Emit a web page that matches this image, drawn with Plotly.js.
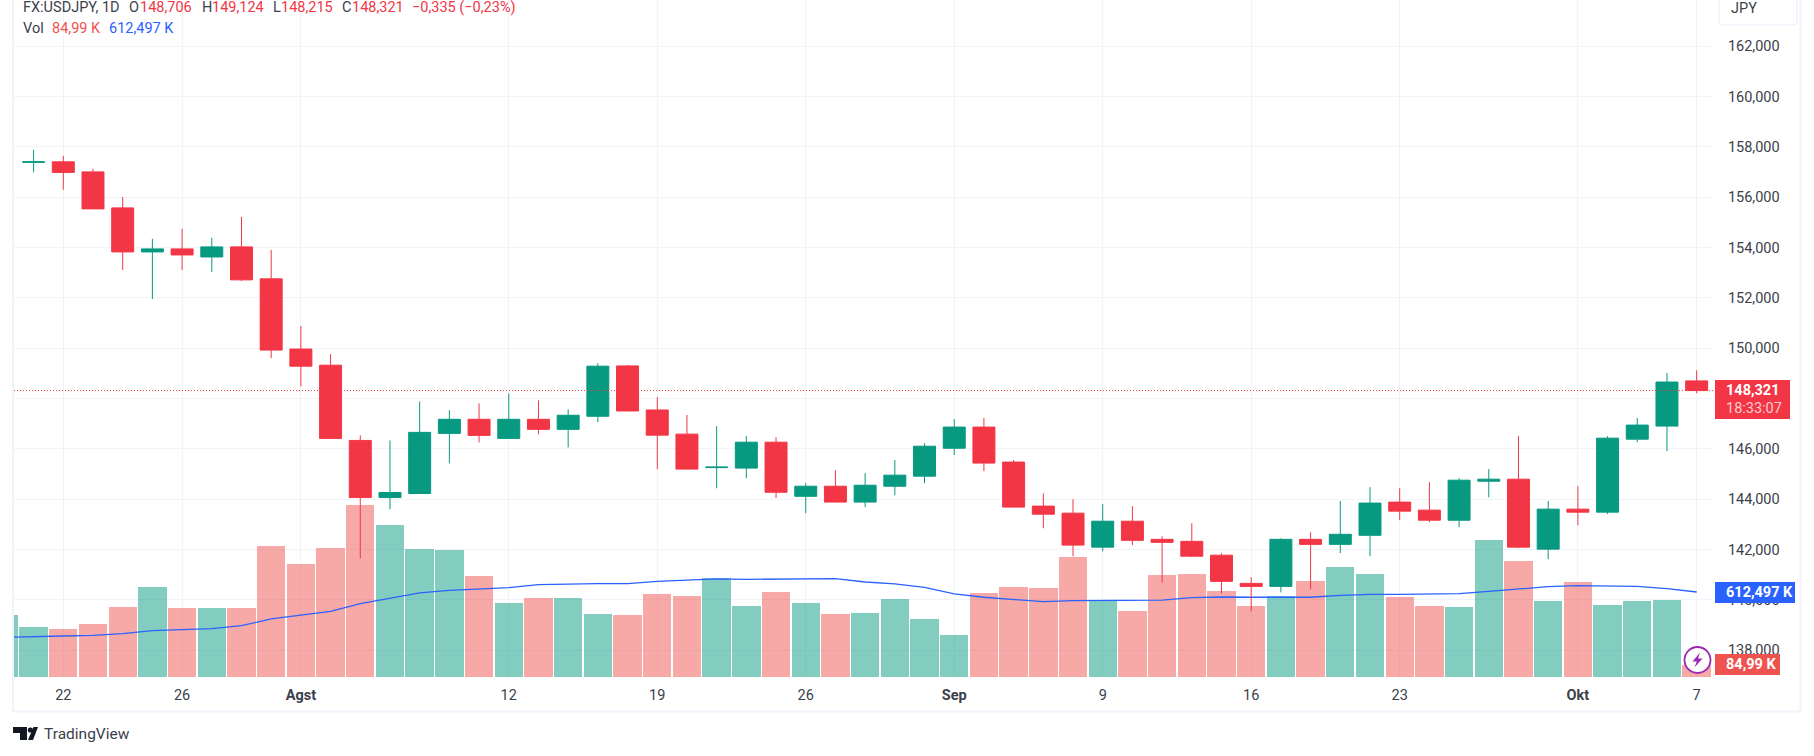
<!DOCTYPE html>
<html>
<head>
<meta charset="utf-8">
<script src="https://cdn.plot.ly/plotly-3.0.1.min.js"></script>
<style>html,body{margin:0;padding:0;background:#fff}#chart{width:1814px;height:756px}</style>
</head>
<body>
<div id="chart"></div>
<script>
const dates = ['07-18','07-19','07-22','07-23','07-24','07-25','07-26','07-29','07-30','07-31','08-01','08-02','08-05','08-06','08-07','08-08','08-09','08-12','08-13','08-14','08-15','08-16','08-19','08-20','08-21','08-22','08-23','08-26','08-27','08-28','08-29','08-30','09-02','09-03','09-04','09-05','09-06','09-09','09-10','09-11','09-12','09-13','09-16','09-17','09-18','09-19','09-20','09-23','09-24','09-25','09-26','09-27','09-30','10-01','10-02','10-03','10-04','10-07'];

const open = [157.39,157.41,157.01,155.58,153.83,153.95,153.63,154.03,152.76,149.97,149.33,146.34,144.07,144.23,146.62,147.18,146.42,147.18,146.78,147.30,149.30,147.55,146.59,145.26,145.24,146.27,144.12,144.52,143.89,144.52,144.92,146.03,146.87,145.48,143.73,143.45,142.10,143.13,142.41,142.33,141.78,140.66,140.54,142.41,142.21,142.57,143.89,143.57,143.17,144.72,144.80,142.02,143.61,143.49,146.39,146.91,148.706];
const high = [157.89,157.65,157.13,156.01,154.35,154.75,154.39,155.22,153.91,150.89,149.77,146.54,146.34,147.89,147.54,147.81,148.21,147.93,147.58,149.41,149.34,148.06,147.35,146.91,146.51,146.47,144.64,145.16,145.04,145.56,146.23,147.19,147.23,145.56,144.24,144.01,143.81,143.73,142.53,143.05,141.86,140.90,142.45,142.69,143.93,144.48,144.44,144.68,144.84,145.20,146.51,143.93,144.52,146.51,147.23,149.02,149.124];
const low = [156.99,156.30,155.54,153.11,151.96,153.11,153.03,152.68,149.61,148.49,146.42,141.65,143.60,144.23,145.43,146.26,146.42,146.58,146.06,147.06,147.51,145.20,145.20,144.44,144.84,144.05,143.45,143.89,143.69,144.16,144.64,145.76,145.12,143.69,142.85,141.74,141.94,142.18,140.70,141.70,140.26,139.55,140.30,140.42,141.86,141.74,143.17,143.09,142.89,144.08,142.06,141.62,142.97,143.41,146.27,145.92,148.215];
const close = [157.41,156.99,155.54,153.83,153.95,153.71,154.03,152.72,149.93,149.29,146.42,144.07,144.27,146.66,147.18,146.54,147.18,146.78,147.34,149.29,147.51,146.55,145.20,145.28,146.27,144.28,144.52,143.89,144.56,144.96,146.11,146.87,145.44,143.69,143.41,142.18,143.13,142.37,142.29,141.74,140.74,140.54,142.41,142.21,142.61,143.85,143.53,143.17,144.76,144.80,142.10,143.61,143.49,146.43,146.95,148.66,148.321];
const volumeK = [444,358,343,379,502,646,494,494,494,941,811,926,1236,1092,919,912,725,530,566,566,451,444,595,581,710,509,610,530,451,458,559,415,300,602,646,638,862,552,473,732,739,617,509,581,689,790,739,574,509,502,984,833,545,682,516,545,552,85];
const volumeMaK = [286,293,295,300,312,334,341,348,370,418,446,473,528,566,605,624,631,643,665,670,672,672,689,698,706,703,706,710,708,684,670,646,598,574,559,542,550,552,550,554,571,576,574,574,574,588,595,595,598,600,617,636,650,658,655,653,636,612];

const priceTicks = [138,140,142,144,146,150,152,154,156,158,160,162];
const priceTickText = ['138,000','140,000','142,000','144,000','146,000','150,000','152,000','154,000','156,000','158,000','160,000','162,000'];
const priceGrid = 148;
const timeTicks = ['07-22','07-26','08-01','08-12','08-19','08-26','09-02','09-09','09-16','09-23','10-01','10-07'];
const timeTickText = ['22','26','<b>Agst</b>','12','19','26','<b>Sep</b>','9','16','23','<b>Okt</b>','7'];

const lastClose = 148.321;

const W = 1814, H = 756, L = 14, R = 1713, B = 677;
const GREEN = '#089981', RED = '#F23645', GRID = '#F0F3FA', TXT = '#3b3f4b', BLUE = '#2962FF', VRED = '#EF5350';
const X = px => (px - L) / (R - L);
const Y = py => 1 - py / B;

const ann = (x, y, text, color, size, extra) => Object.assign({
  xref: 'paper', yref: 'paper', x: X(x), y: Y(y), text, showarrow: false, xanchor: 'left', yanchor: 'middle',
  font: {family: 'Roboto, sans-serif', size: size || 14.5, color}, borderpad: 0
}, extra || {});
const rect = (x0, y0, x1, y1, fill, line) => ({
  type: 'rect', xref: 'paper', yref: 'paper', x0: X(x0), x1: X(x1), y0: Y(y0), y1: Y(y1),
  fillcolor: fill, line: line || {width: 0}, layer: 'above'
});
const poly = (pts, fill) => ({
  type: 'path', xref: 'paper', yref: 'paper', layer: 'above', fillcolor: fill, line: {width: 0},
  path: 'M' + pts.map(p => X(p[0]) + ',' + Y(p[1])).join('L') + 'Z'
});
const seg = (x0, y0, x1, y1, c, w) => ({
  type: 'line', xref: 'paper', yref: 'paper', x0: X(x0), x1: X(x1), y0: Y(y0), y1: Y(y1),
  line: {color: c, width: w}, layer: 'above'
});

const barColors = volumeK.map((v, i) => i === 0 ? 'rgba(8,153,129,0.5)' :
  (close[i - 1] >= open[i - 1] ? 'rgba(8,153,129,0.5)' : 'rgba(239,83,80,0.5)'));

const traces = [
  {type: 'bar', x: dates, y: volumeK, marker: {color: barColors, line: {width: 0}}, width: 0.955, xaxis: 'x', yaxis: 'y', hoverinfo: 'skip'},
  {type: 'scatter', mode: 'lines', x: dates, y: volumeMaK, line: {color: BLUE, width: 1.3}, xaxis: 'x', yaxis: 'y', hoverinfo: 'skip'},
  {type: 'candlestick', x: dates.slice(1), open, high, low, close, xaxis: 'x', yaxis: 'y2', hoverinfo: 'skip',
    increasing: {line: {color: GREEN, width: 1}, fillcolor: GREEN},
    decreasing: {line: {color: RED, width: 1}, fillcolor: RED}}
];

const shapes = [
  {type: 'line', xref: 'paper', yref: 'y2', x0: 0, x1: 1, y0: priceGrid, y1: priceGrid, line: {color: GRID, width: 1}, layer: 'below'},
  {type: 'line', xref: 'paper', yref: 'y2', x0: 0, x1: 1, y0: lastClose, y1: lastClose, line: {color: RED, width: 1, dash: '1px,2px'}, layer: 'above'},
  seg(13, 0, 13, 712, GRID, 2), seg(12, 711.5, 1801, 711.5, GRID, 2), seg(1800.5, 0, 1800.5, 712, GRID, 2),
  {type: 'path', xref: 'paper', yref: 'paper', layer: 'above', fillcolor: '#fff', line: {color: GRID, width: 1.5},
   path: `M${X(1719)},${Y(-2)}L${X(1719)},${Y(21)}Q${X(1719)},${Y(25)} ${X(1723)},${Y(25)}L${X(1793)},${Y(25)}Q${X(1797)},${Y(25)} ${X(1797)},${Y(21)}L${X(1797)},${Y(-2)}`},
  rect(1715, 380, 1790, 419, RED),
  rect(1715, 582, 1795, 603, BLUE),
  rect(1715, 654, 1780, 675, VRED),
  {type: 'circle', xref: 'paper', yref: 'paper', layer: 'above', x0: X(1684.5), x1: X(1710.5), y0: Y(647), y1: Y(673), fillcolor: '#fff', line: {color: '#9C27B0', width: 1.8}},
  poly([[1700,652.5],[1692.5,661.5],[1696.8,661.5],[1694.5,667.5],[1702.5,658.5],[1698,658.5]], '#9C27B0'),
  poly([[13,727],[27,727],[27,740],[20,740],[20,733],[13,733]], '#131722'),
  {type: 'circle', xref: 'paper', yref: 'paper', layer: 'above', x0: X(27.8), x1: X(33), y0: Y(727.4), y1: Y(732.6), fillcolor: '#131722', line: {width: 0}},
  poly([[33.5,727],[38,727],[33,740],[28,740]], '#131722')
];

const annotations = [
  ann(22, 7.5, 'FX:USDJPY, 1D', TXT),
  ann(128, 7.5, 'O', TXT), ann(139, 7.5, '148,706', RED),
  ann(200.5, 7.5, 'H', TXT), ann(211, 7.5, '149,124', RED),
  ann(271.5, 7.5, 'L', TXT), ann(280, 7.5, '148,215', RED),
  ann(341, 7.5, 'C', TXT), ann(351, 7.5, '148,321', RED),
  ann(411, 7.5, '−0,335 (−0,23%)', RED),
  ann(22, 28.5, 'Vol', TXT), ann(51, 28.5, '84,99 K', VRED), ann(108, 28.5, '612,497 K', BLUE),
  ann(1730, 8, 'JPY', TXT),
  ann(1725, 390, '<b>148,321</b>', '#ffffff'),
  ann(1725, 408, '18:33:07', 'rgba(255,255,255,0.75)'),
  ann(1725, 592.5, '<b>612,497 K</b>', '#ffffff'),
  ann(1725, 664.5, '<b>84,99 K</b>', '#ffffff'),
  ann(42.7, 734, 'TradingView', '#3b3f4b', 15.5)
];

const layout = {
  width: W, height: H, margin: {l: L, r: W - R, t: 0, b: H - B, pad: 0},
  paper_bgcolor: '#fff', plot_bgcolor: '#fff', showlegend: false, boxmode: 'group', boxgap: 0.26, boxgroupgap: 0,
  bargap: 0, barmode: 'overlay',
  font: {family: 'Roboto, sans-serif', size: 14, color: TXT},
  xaxis: {type: 'category', categoryorder: 'array', categoryarray: dates, range: [0.34, 57.55], rangeslider: {visible: false},
    tickmode: 'array', tickvals: timeTicks, ticktext: timeTickText, tickangle: 0, showgrid: true, gridcolor: GRID, gridwidth: 1,
    ticks: 'outside', ticklen: 5, tickcolor: 'rgba(0,0,0,0)', showline: false, zeroline: false, tickfont: {size: 14.5, color: TXT}},
  yaxis: {range: [0, 4874], visible: false, showgrid: false, zeroline: false, fixedrange: true},
  yaxis2: {overlaying: 'y', side: 'right', anchor: 'x', range: [136.94, 163.84], tickmode: 'array', tickvals: priceTicks, ticktext: priceTickText,
    showgrid: true, gridcolor: GRID, gridwidth: 1, zeroline: false, showline: false, ticks: 'outside', ticklen: 11, tickcolor: 'rgba(0,0,0,0)',
    tickfont: {size: 14.5, color: TXT}, fixedrange: true},
  shapes, annotations
};

Plotly.newPlot('chart', traces, layout, {displayModeBar: false, staticPlot: true});
</script>
</body>
</html>
